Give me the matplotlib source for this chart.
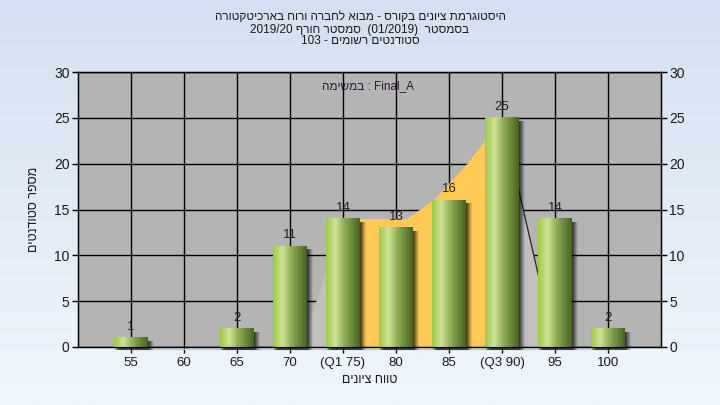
import re
import numpy as np
import matplotlib
matplotlib.use("Agg")
import matplotlib.pyplot as plt
import matplotlib.transforms as mtransforms
from matplotlib.patches import Rectangle

plt.rcParams['font.family'] = ['Liberation Sans Narrow', 'Liberation Sans', 'DejaVu Sans']

# ---------------- data ----------------
title_lines = [
    "היסטוגרמת ציונים בקורס - מבוא לחברה ורוח בארכיטקטורה",
    "בסמסטר  (01/2019)  סמסטר חורף 2019/20",
    "סטודנטים רשומים - 103",
]
task_label = "במשימה"
task_name = "Final_A"
x_title = "טווח ציונים"
y_title = "מספר סטודנטים"

categories = ['55', '60', '65', '70', '(Q1 75)', '80', '85', '(Q3 90)', '95', '100']
counts = [1, 0, 2, 11, 14, 13, 16, 25, 14, 2]

q1_index = 4
q3_index = 7
curve_pos = [3.2, 4.0, 5.2, 5.75, 6.35, 7.0, 8.0]
curve_val = [0, 14, 14, 16.3, 20.1, 25, 0]

y_ticks = [0, 5, 10, 15, 20, 25, 30]


def visual(s):
    """Convert logical RTL text into visual (left-to-right) order."""
    r = s[::-1]
    r = re.sub(r'[0-9A-Za-z/._:]+', lambda m: m.group(0)[::-1], r)
    return r.translate(str.maketrans('()', ')('))


W, H = 720, 405
fig = plt.figure(figsize=(W / 100, H / 100), dpi=100)

# background gradient
bg = fig.add_axes([0, 0, 1, 1], zorder=-10)
top = np.array([212, 224, 241]) / 255
bot = np.array([240, 246, 253]) / 255
t = np.linspace(0, 1, 256)[:, None]
grad = (top * (1 - t) + bot * t)[:, None, :]
bg.imshow(grad, aspect='auto', extent=[0, 1, 0, 1], interpolation='bilinear')
bg.set_axis_off()

ax = fig.add_axes([78 / W, 58 / H, 583 / W, 275 / H])
ax.set_facecolor('#b4b4b4')

# grid
ax.set_axisbelow(True)
ax.grid(True, color='black', lw=1)

# area curve
xs = np.union1d(np.linspace(curve_pos[0], curve_pos[-1], 600), curve_pos)
ys = np.interp(xs, curve_pos, curve_val)
ax.fill_between(xs, 0, ys, color='#c0c0c0', lw=0, zorder=1)
mask = (xs >= q1_index) & (xs <= q3_index)
ax.fill_between(xs, 0, ys, where=mask, color='#fec955', lw=0, zorder=1.1)
ax.plot(curve_pos[-2:], curve_val[-2:], color='#303030', lw=1, zorder=1.2)

# thin light base line under the axis
base = mtransforms.offset_copy(ax.transData, fig=fig, x=0, y=-2, units='dots')
ax.plot([0, 9], [0, 0], color='#c3cbd4', lw=1, transform=base, clip_on=False, zorder=1)

# bars
bw = 0.64
stops = [0.0, 0.28, 0.55, 1.0]
cols = np.array([[157, 203, 69], [207, 227, 150], [140, 172, 84], [72, 100, 32]]) / 255
u = np.linspace(0, 1, 80)
bar_grad = np.stack([np.interp(u, stops, cols[:, c]) for c in range(3)], axis=-1)[None, :, :]

for i, h in enumerate(counts):
    if h <= 0:
        continue
    for dx, a in [(1, 0.25), (2, 0.22), (3, 0.2), (4, 0.16), (5, 0.12), (6, 0.08)]:
        tr = mtransforms.offset_copy(ax.transData, fig=fig, x=dx, y=-3, units='dots')
        ax.add_patch(Rectangle((i - bw / 2, 0), bw, h, transform=tr, facecolor='black',
                               alpha=a, lw=0, zorder=2, clip_on=False))
    ax.imshow(bar_grad, extent=[i - bw / 2, i + bw / 2, 0, h], aspect='auto',
              interpolation='bilinear', zorder=3)
    ax.annotate(str(h), (i, h), xytext=(0, 8), textcoords='offset points',
                ha='center', va='center', fontsize=9.5, color='#202020', zorder=5)

ax.set_xlim(-1, 10)
ax.set_ylim(0, 30)
ax.set_xticks(range(len(categories)))
ax.set_xticklabels(categories)
ax.set_yticks(y_ticks)
ax.tick_params(axis='both', direction='out', length=4, width=1, color='black',
               labelsize=10, labelcolor='#1a1a1a', pad=2)
ax.tick_params(axis='x', labelsize=9.5, pad=3)
for s in ax.spines.values():
    s.set_color('black')
    s.set_linewidth(1)

ax2 = ax.twinx()
ax2.set_ylim(0, 30)
ax2.set_yticks(y_ticks)
ax2.tick_params(axis='y', direction='out', length=4, width=1, color='black',
                labelsize=10, labelcolor='#1a1a1a', pad=2)

# texts
ys_title = [17.5, 29.5, 41.5]
for line, yy in zip(title_lines, ys_title):
    fig.text(0.5, 1 - yy / H, visual(line), ha='center', va='center',
             fontsize=8.5, color='#1a1a1a')

fig.text(368 / W, 1 - 86 / H, visual(task_label) + " : " + task_name,
         ha='center', va='center', fontsize=8.5, color='#2a1a30')

fig.text(370 / W, 1 - 380 / H, visual(x_title), ha='center', va='center',
         fontsize=9, color='#1a1a1a')
fig.text(34 / W, 1 - 209 / H, visual(y_title), ha='center', va='center',
         rotation=90, fontsize=9, color='#1a1a1a')

fig.savefig('out.png', dpi=100)
